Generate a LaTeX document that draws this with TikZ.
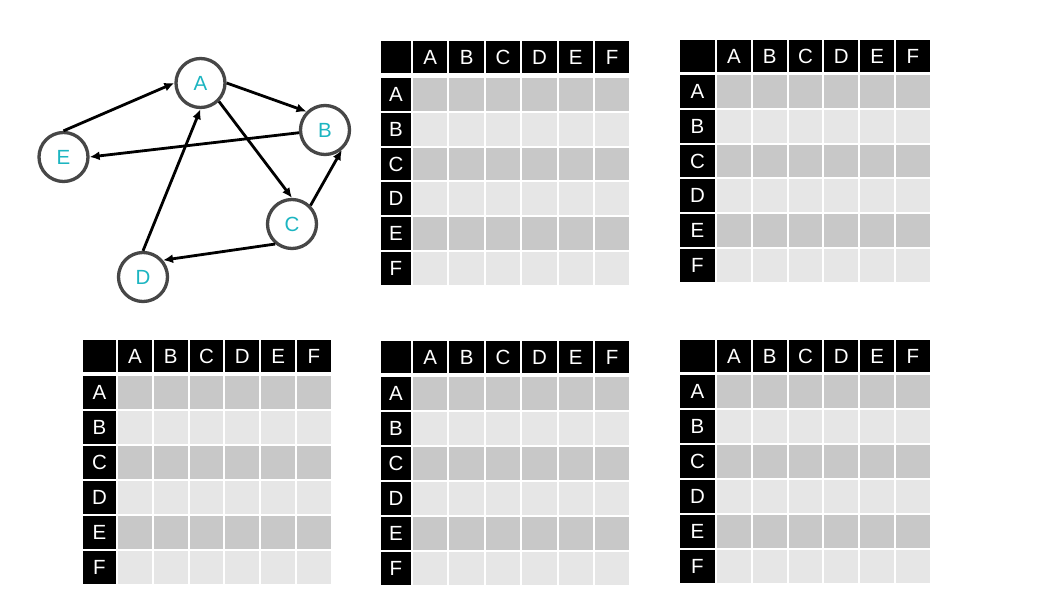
\documentclass[tikz,border=0pt]{standalone}
\usepackage{fontspec}
\setmainfont{Liberation Sans}
\usetikzlibrary{arrows.meta}

\definecolor{nodetext}{HTML}{1CB5C1}
\definecolor{nodering}{HTML}{474747}
\definecolor{rowdark}{HTML}{C8C8C8}
\definecolor{rowlight}{HTML}{E6E6E6}

\tikzset{
  vertex/.style={circle, draw=nodering, line width=3.3pt, fill=white,
    minimum size=49pt, inner sep=0pt, text=nodetext,
    font=\fontsize{20.5}{22}\selectfont},
  edge/.style={line width=2.8pt, -{Latex[length=10pt,width=9pt]}},
  hcell/.style={rectangle, fill=black, draw=none, inner sep=0pt,
    text=white, font=\fontsize{20.5}{22}\selectfont},
  dcell/.style={rectangle, draw=none, inner sep=0pt},
}

% adjacency matrix:
% #1 name, #2 left x, #3 label column width, #4 first data column x,
% #5 column pitch, #6 header top y, #7 first row top y, #8 row pitch
\newcommand\adjmatrix[8]{%
  \node[hcell, minimum width=#3, minimum height=32] (#1-corner)
    at ({#2+#3/2}, {#6+16}) {};
  \foreach \l [count=\i] in {A,B,C,D,E,F} {
    \node[hcell, minimum width={#5-2}, minimum height=32] (#1-c\i)
      at ({#4+(\i-0.5)*#5-1}, {#6+16}) {\l};
    \node[hcell, minimum width=#3, minimum height={#8-2}] (#1-r\i)
      at ({#2+#3/2}, {#7+(\i-0.5)*#8-1}) {\l};
    \ifodd\i \def\cellcol{rowdark}\else\def\cellcol{rowlight}\fi
    \foreach \j in {1,...,6} {
      \node[dcell, fill=\cellcol, minimum width={#5-2}, minimum height={#8-2}]
        (#1-\i-\j) at ({#4+(\j-0.5)*#5-1}, {#7+(\i-0.5)*#8-1}) {};
    }
  }%
}

\begin{document}
\begin{tikzpicture}[x=1pt, y=-1pt]
  \useasboundingbox[fill=white] (0,0) rectangle (1043,599);

  % directed graph
  \node[vertex] (A) at (200.5,83) {A};
  \node[vertex] (B) at (325,130) {B};
  \node[vertex] (E) at (63.5,157) {E};
  \node[vertex] (C) at (292,224) {C};
  \node[vertex] (D) at (143,277) {D};

  \draw[edge] (E.north) -- (A.west);
  \draw[edge] (A.east) -- (B.135);
  \draw[edge] (B.186) -- (E.east);
  \draw[edge] (A.-45) -- (C.north);
  \draw[edge] (C.45) -- (B.-50);
  \draw[edge] (C.-130) -- (D.40);
  \draw[edge] (D.north) -- (A.south);

  % empty matrices
  \adjmatrix{m1}{381}{30}{413}{36.4}{41}{78}{34.8}
  \adjmatrix{m2}{680}{35}{717}{35.8}{40}{75}{34.8}
  \adjmatrix{m3}{83}{33}{118}{35.8}{340}{376}{35}
  \adjmatrix{m4}{381}{30}{413}{36.4}{341}{377}{35}
  \adjmatrix{m5}{680}{35}{717}{35.8}{340}{375}{35}
\end{tikzpicture}
\end{document}
